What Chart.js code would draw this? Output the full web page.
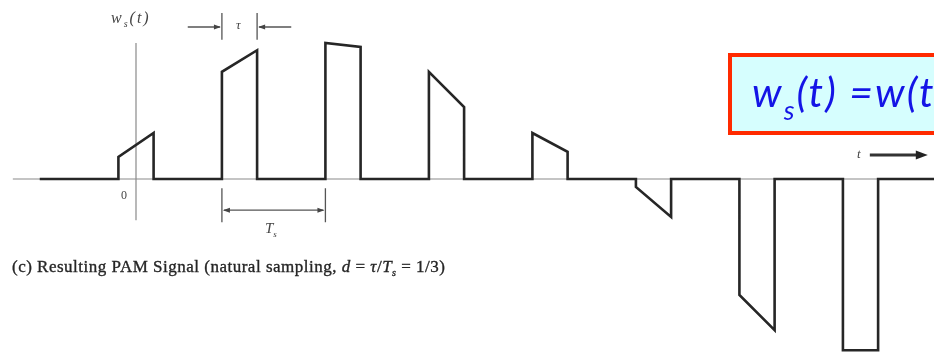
<!DOCTYPE html>
<html>
<head>
<meta charset="utf-8">
<script src="https://cdn.jsdelivr.net/npm/chart.js@4"></script>
<style>
    html, body { margin: 0; padding: 0; background: #fff; overflow: hidden; }
    #wrap { position: relative; width: 934px; height: 355px; overflow: hidden; }
    #chartBox { position: absolute; left: 0; top: 0; width: 934px; height: 355px; }
    .lbl { position: absolute; font-family: "Liberation Serif", "DejaVu Serif", serif; color: #444; white-space: nowrap; line-height: 1; }
    .it { font-style: italic; }
    #caption { left: 12px; top: 258px; font-size: 17px; color: #262626; letter-spacing: 0.5px; -webkit-text-stroke: 0.35px #262626; }
    #formula { position: absolute; left: 728px; top: 53px; width: 320px; height: 74px;
        border: 4.5px solid #ff2a00; background: #d6fefe; overflow: hidden; }
    #formula span { position: absolute; left: 20px; top: 10px; font-family: Lato, "Open Sans", sans-serif;
        font-style: italic; font-size: 41px; color: #1414e6; white-space: nowrap; line-height: 1.2; letter-spacing: 2px; }
    #formula sub { font-size: 27px; vertical-align: -13px; line-height: 0; }
</style>
</head>
<body>
<div id="wrap">
    <div id="chartBox"><canvas id="pam"></canvas></div>
    <div class="lbl it" style="left:111px; top:10px; font-size:16px; letter-spacing:2px;">w<sub style="font-size:10px;">s</sub>(t)</div>
    <div class="lbl it" style="left:236px; top:18px; font-size:13px;">τ</div>
    <div class="lbl" style="left:121px; top:189px; font-size:12px;">0</div>
    <div class="lbl it" style="left:265px; top:221px; font-size:15px;">T<sub style="font-size:9px;">s</sub></div>
    <div class="lbl it" style="left:857px; top:147px; font-size:13px;">t</div>
    <div id="caption" class="lbl">(c) Resulting PAM Signal (natural sampling, <i>d</i> = <i>τ</i>/<i>T<sub style="font-size:10px;">s</sub></i> = 1/3)</div>
    <div id="formula"><span>w<sub>s</sub>(t) =w(t)s(t)</span></div>
</div>
<script>
// time in units of Ts, amplitude in arbitrary volts
const xMin = -1.314;
const xMax = 7.71;
const yMin = -4.4;
const yMax = 4.475;

const signalStart = -0.93;
const axisStart = -1.19;

const pulseStart = [-0.17, 0.83, 1.83, 2.83, 3.83, 4.83, 5.83, 6.83];
const pulseEnd = [0.17, 1.17, 2.17, 3.17, 4.17, 5.17, 6.17, 7.17];
const topAtStart = [0.55, 2.68, 3.4, 2.68, 1.15, -0.2, -2.9, -4.28];
const topAtEnd = [1.15, 3.22, 3.3, 1.8, 0.68, -0.95, -3.78, -4.28];

// annotation levels (data units)
const tauArrowLevel = 3.8;
const tauTickTop = 4.15;
const tauTickBottom = 3.48;
const tauArrowTail = [0.5, 1.5];
const tsArrowLevel = -0.78;
const tsTickTop = -0.23;
const tsTickBottom = -1.08;
const vAxisTop = 3.4;
const vAxisBottom = -1.03;
const tArrow = [7.09, 7.65, 0.6];

const points = [{ x: signalStart, y: 0 }];
pulseStart.forEach((s, i) => {
    points.push({ x: s, y: 0 });
    points.push({ x: s, y: topAtStart[i] });
    points.push({ x: pulseEnd[i], y: topAtEnd[i] });
    points.push({ x: pulseEnd[i], y: 0 });
});
points.push({ x: xMax, y: 0 });

function arrowHead(ctx, x, y, dir, len, half) {
    ctx.beginPath();
    ctx.moveTo(x, y);
    ctx.lineTo(x - dir * len, y - half);
    ctx.lineTo(x - dir * len, y + half);
    ctx.closePath();
    ctx.fill();
}

const decorations = {
    id: 'decorations',
    beforeDatasetsDraw(chart) {
        const ctx = chart.ctx;
        const xs = chart.scales.x;
        const ys = chart.scales.y;
        const px = v => xs.getPixelForValue(v);
        const py = v => ys.getPixelForValue(v);
        ctx.save();
        ctx.strokeStyle = '#8a8a8a';
        ctx.lineWidth = 1.2;
        ctx.beginPath();
        ctx.moveTo(px(axisStart), py(0));
        ctx.lineTo(px(xMax), py(0));
        ctx.moveTo(px(0), py(vAxisTop));
        ctx.lineTo(px(0), py(vAxisBottom));
        ctx.stroke();
        ctx.restore();
    },
    afterDatasetsDraw(chart) {
        const ctx = chart.ctx;
        const xs = chart.scales.x;
        const ys = chart.scales.y;
        const px = v => xs.getPixelForValue(v);
        const py = v => ys.getPixelForValue(v);
        ctx.save();
        ctx.strokeStyle = '#555';
        ctx.fillStyle = '#444';
        ctx.lineWidth = 1.3;

        // tau marker
        const t1 = px(pulseStart[1]);
        const t2 = px(pulseEnd[1]);
        ctx.beginPath();
        ctx.moveTo(t1, py(tauTickTop)); ctx.lineTo(t1, py(tauTickBottom));
        ctx.moveTo(t2, py(tauTickTop)); ctx.lineTo(t2, py(tauTickBottom));
        ctx.moveTo(px(tauArrowTail[0]), py(tauArrowLevel)); ctx.lineTo(t1 - 2, py(tauArrowLevel));
        ctx.moveTo(px(tauArrowTail[1]), py(tauArrowLevel)); ctx.lineTo(t2 + 2, py(tauArrowLevel));
        ctx.stroke();
        arrowHead(ctx, t1 - 1, py(tauArrowLevel), 1, 7, 2.5);
        arrowHead(ctx, t2 + 1, py(tauArrowLevel), -1, 7, 2.5);

        // Ts marker
        const s1 = px(pulseStart[1]);
        const s2 = px(pulseStart[2]);
        ctx.beginPath();
        ctx.moveTo(s1, py(tsTickTop)); ctx.lineTo(s1, py(tsTickBottom));
        ctx.moveTo(s2, py(tsTickTop)); ctx.lineTo(s2, py(tsTickBottom));
        ctx.moveTo(s1 + 2, py(tsArrowLevel)); ctx.lineTo(s2 - 2, py(tsArrowLevel));
        ctx.stroke();
        arrowHead(ctx, s1 + 1, py(tsArrowLevel), -1, 7, 2.5);
        arrowHead(ctx, s2 - 1, py(tsArrowLevel), 1, 7, 2.5);

        // t axis arrow
        ctx.strokeStyle = '#333';
        ctx.fillStyle = '#222';
        ctx.lineWidth = 3;
        ctx.beginPath();
        ctx.moveTo(px(tArrow[0]), py(tArrow[2]));
        ctx.lineTo(px(tArrow[1]) - 6, py(tArrow[2]));
        ctx.stroke();
        arrowHead(ctx, px(tArrow[1]), py(tArrow[2]), 1, 12, 4.5);
        ctx.restore();
    }
};

new Chart(document.getElementById('pam'), {
    type: 'scatter',
    data: {
        datasets: [{
            label: 'ws(t)',
            data: points,
            showLine: true,
            borderColor: '#262626',
            borderWidth: 2.6,
            borderJoinStyle: 'miter',
            pointRadius: 0,
            tension: 0
        }]
    },
    options: {
        responsive: true,
        maintainAspectRatio: false,
        animation: false,
        layout: { padding: 0 },
        plugins: { legend: { display: false }, tooltip: { enabled: false } },
        scales: {
            x: { type: 'linear', min: xMin, max: xMax, display: false },
            y: { type: 'linear', min: yMin, max: yMax, display: false }
        }
    },
    plugins: [decorations]
});
</script>
</body>
</html>
